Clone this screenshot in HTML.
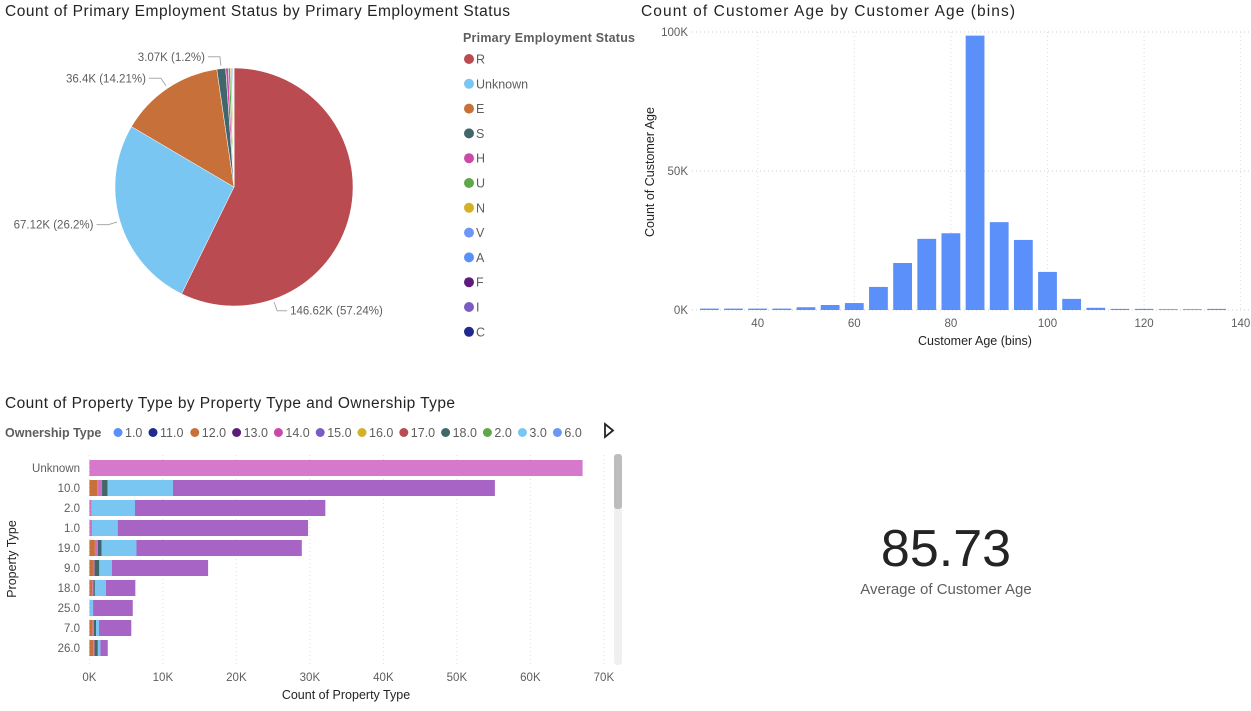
<!DOCTYPE html>
<html><head><meta charset="utf-8"><style>
body{margin:0;background:#fff;font-family:"Liberation Sans",sans-serif;}
svg text{font-family:"Liberation Sans",sans-serif;}
</style></head><body>
<svg id="s" width="1251" height="706" xmlns="http://www.w3.org/2000/svg">
<text x="5" y="16" font-size="15.5" fill="#252423" textLength="505" lengthAdjust="spacing">Count of Primary Employment Status by Primary Employment Status</text>
<text x="641" y="16" font-size="15.5" fill="#252423" textLength="374" lengthAdjust="spacing">Count of Customer Age by Customer Age (bins)</text>
<text x="5" y="408" font-size="15.5" fill="#252423" textLength="450" lengthAdjust="spacing">Count of Property Type by Property Type and Ownership Type</text>
<g id="pie"></g>
<g id="pieLegend"><text x="463" y="42" font-size="12.5" font-weight="bold" fill="#605E5C" textLength="172" lengthAdjust="spacing">Primary Employment Status</text></g>
<g id="hist"></g>
<g id="bar"></g>
<text x="946" y="566" font-size="52" fill="#252423" text-anchor="middle">85.73</text>
<text x="946" y="594" font-size="15" fill="#605E5C" text-anchor="middle">Average of Customer Age</text>
</svg>
<script>
const NS="http://www.w3.org/2000/svg";
function mk(p,tag,a){const e=document.createElementNS(NS,tag);for(const k in a)e.setAttribute(k,a[k]);p.appendChild(e);return e;}

// Pie data
const pieCats=["R","Unknown","E","S","H","U","N","V","A","F","I","C"];
const pieVals=[146.62,67.12,36.4,3.07,0.9,0.7,0.5,0.3,0.2,0.1,0.1,0.05];
const pieLabels=["146.62K (57.24%)","67.12K (26.2%)","36.4K (14.21%)","3.07K (1.2%)"];
const pieColors=["#B94B51","#7AC6F2","#C8703A","#41676B","#C94BA7","#5FA84A","#D4B227","#6B97F7","#5B8FF9","#5C1C7A","#7B5CC4","#1F2A8F"];

// Histogram data
const ageBins=[30,35,40,45,50,55,60,65,70,75,80,85,90,95,100,105,110,115,120,125,130,135];
const ageCounts=[0.5,0.5,0.5,0.5,1.0,1.8,2.5,8.3,16.9,25.6,27.6,98.7,31.6,25.2,13.7,4.0,0.8,0.4,0.4,0,0,0.4];
const histYTicks=[0,50,100];
const histXTicks=[40,60,80,100,120,140];

// Bar data
const propTypes=["Unknown","10.0","2.0","1.0","19.0","9.0","18.0","25.0","7.0","26.0"];
const seriesNames=["12.0","14.0","18.0","3.0","15.0"];
const s12=[0,1.07,0,0,0.75,0.55,0.4,0,0.45,0.5];
const s14=[67.1,0.65,0.3,0.35,0.4,0.15,0.15,0,0.15,0.2];
const s18=[0,0.75,0,0,0.5,0.65,0.2,0,0.3,0.45];
const s3=[0,8.9,5.9,3.5,4.75,1.7,1.5,0.5,0.4,0.35];
const s15=[0,43.8,25.9,25.9,22.5,13.1,4.0,5.4,4.4,1.0];
const barXTicks=[0,10,20,30,40,50,60,70];
const ownTypes=["1.0","11.0","12.0","13.0","14.0","15.0","16.0","17.0","18.0","2.0","3.0","6.0"];
const ownColors=["#5B8FF9","#1F2A8F","#C8703A","#5C1C7A","#C94BA7","#7B5CC4","#D4B227","#B94B51","#41676B","#5FA84A","#7AC6F2","#6B97F7"];

// ---- Pie
(function(){
 const g=document.getElementById('pie');const cx=234,cy=187,r=119;
 const tot=pieVals.reduce((a,b)=>a+b,0);let a0=0;
 // label leader offsets (layout only)
 const lblPos=[{side:1,dy:0.9},{side:-1,dy:0.25},{side:-1,dy:-0.8},{side:-1,dy:-1.12}];
 pieVals.forEach((v,i)=>{
  const a1=a0+v/tot*2*Math.PI;
  const x0=cx+r*Math.sin(a0),y0=cy-r*Math.cos(a0),x1=cx+r*Math.sin(a1),y1=cy-r*Math.cos(a1);
  const p=mk(g,'path',{d:`M${cx},${cy}L${x0},${y0}A${r},${r} 0 ${a1-a0>Math.PI?1:0} 1 ${x1},${y1}Z`,fill:pieColors[i],stroke:'#fff','stroke-width':0.5});
  
  
  if(i<pieLabels.length){
   let m=(a0+a1)/2;
   if(i===0) m=a0+(a1-a0)*0.78;
   const ex=cx+(r+3)*Math.sin(m),ey=cy-(r+3)*Math.cos(m);
   const left=Math.sin(m)<0;
   const bx=cx+(r+12)*Math.sin(m),by=cy-(r+12)*Math.cos(m);
   const lx=left?bx-12:bx+10;
   mk(g,'polyline',{points:`${ex},${ey} ${bx},${by} ${lx},${by}`,fill:'none',stroke:'#aaa','stroke-width':1});
   const t=mk(g,'text',{x:left?lx-3:lx+3,y:by+4,'font-size':11.5,fill:'#605E5C','text-anchor':left?'end':'start'});
   t.textContent=pieLabels[i];
   
   
  }
  a0=a1;
 });
 const lg=document.getElementById('pieLegend');
 pieCats.forEach((c,i)=>{
  const y=59+i*24.8;
  const e=mk(lg,'g',{});
  
  
  mk(e,'circle',{cx:469,cy:y,r:5,fill:pieColors[i]});
  const t=mk(e,'text',{x:476,y:y+4.5,'font-size':12.5,fill:'#605E5C'});t.textContent=c;
 });
})();

// ---- Histogram
(function(){
 const g=document.getElementById('hist');
 const X=v=>757.7+(v-40)*4.83, Y=v=>310-v*2.78;
 histYTicks.forEach(t=>{
  mk(g,'line',{x1:692,x2:1250,y1:Y(t),y2:Y(t),stroke:'#ccc','stroke-dasharray':'1,3'});
  const tx=mk(g,'text',{x:688,y:Y(t)+4,'font-size':11.5,fill:'#605E5C','text-anchor':'end'});tx.textContent=t+'K';
 });
 histXTicks.forEach(t=>{
  mk(g,'line',{x1:X(t),x2:X(t),y1:32,y2:310,stroke:'#ddd','stroke-dasharray':'1,3'});
  const tx=mk(g,'text',{x:X(t),y:327,'font-size':11.5,fill:'#605E5C','text-anchor':'middle'});tx.textContent=t;
 });
 ageBins.forEach((b,i)=>{
  const h=Math.max(ageCounts[i]*2.78,0.8);
  const r=mk(g,'rect',{x:X(b)-9.4,y:310-h,width:18.8,height:h,fill:'#5B8FF9'});
  
  
 });
 const xt=mk(g,'text',{x:975,y:345,'font-size':12.5,fill:'#252423','text-anchor':'middle'});xt.textContent='Customer Age (bins)';
 
 const yt=mk(g,'text',{x:0,y:0,'font-size':12.5,fill:'#252423','text-anchor':'middle',transform:'translate(654,172) rotate(-90)'});yt.textContent='Count of Customer Age';
 
})();

// ---- Bar chart
(function(){
 const g=document.getElementById('bar');
 const lgT=mk(g,'text',{x:5,y:437,'font-size':12.5,'font-weight':'bold',fill:'#605E5C'});lgT.textContent='Ownership Type';
 let lx=118;
 ownTypes.forEach((o,i)=>{
  const e=mk(g,'g',{});
  
  
  mk(e,'circle',{cx:lx,cy:432.5,r:4.5,fill:ownColors[i]});
  const t=mk(e,'text',{x:lx+7,y:437,'font-size':12.5,fill:'#605E5C'});t.textContent=o;
  lx+=o.length===3?35:41.8;
 });
 const arr=mk(g,'path',{d:'M605,424 L613,430.5 L605,437 Z',fill:'#fff',stroke:'#252423','stroke-width':1.8});
 
 const X=v=>89.4+v*7.35;
 barXTicks.forEach(t=>{
  mk(g,'line',{x1:X(t),x2:X(t),y1:455,y2:665,stroke:'#ddd','stroke-dasharray':'1,3'});
  const tx=mk(g,'text',{x:X(t),y:681,'font-size':11.5,fill:'#605E5C','text-anchor':'middle'});tx.textContent=t+'K';
 });
 const ser=[s12,s14,s18,s3,s15];const cols=["#C8703A","#D070C0","#41676B","#7AC6F2","#A864C5"];
 propTypes.forEach((p,i)=>{
  const y=468+i*20;
  const t=mk(g,'text',{x:80,y:y+4,'font-size':11.5,fill:'#605E5C','text-anchor':'end'});t.textContent=p;
  let acc=0;
  ser.forEach((s,j)=>{
   const v=s[i];if(v<=0)return;
   const c=(i===0&&j===1)?'#D678CB':cols[j];
   const r=mk(g,'rect',{x:X(acc),y:y-8,width:v*7.35,height:16,fill:c});
   
   
   acc+=v;
  });
 });
 const xt=mk(g,'text',{x:346,y:699,'font-size':12.5,fill:'#252423','text-anchor':'middle'});xt.textContent='Count of Property Type';
 
 const yt=mk(g,'text',{x:0,y:0,'font-size':12.5,fill:'#252423','text-anchor':'middle',transform:'translate(16,559) rotate(-90)'});yt.textContent='Property Type';
 
 const sb=mk(g,'rect',{x:614,y:454,width:8,height:211,fill:'#f0f0f0',rx:3});
 
 const th=mk(g,'rect',{x:614,y:454,width:8,height:55,fill:'#bdbdbd',rx:3});
 
})();
</script>
</body></html>
